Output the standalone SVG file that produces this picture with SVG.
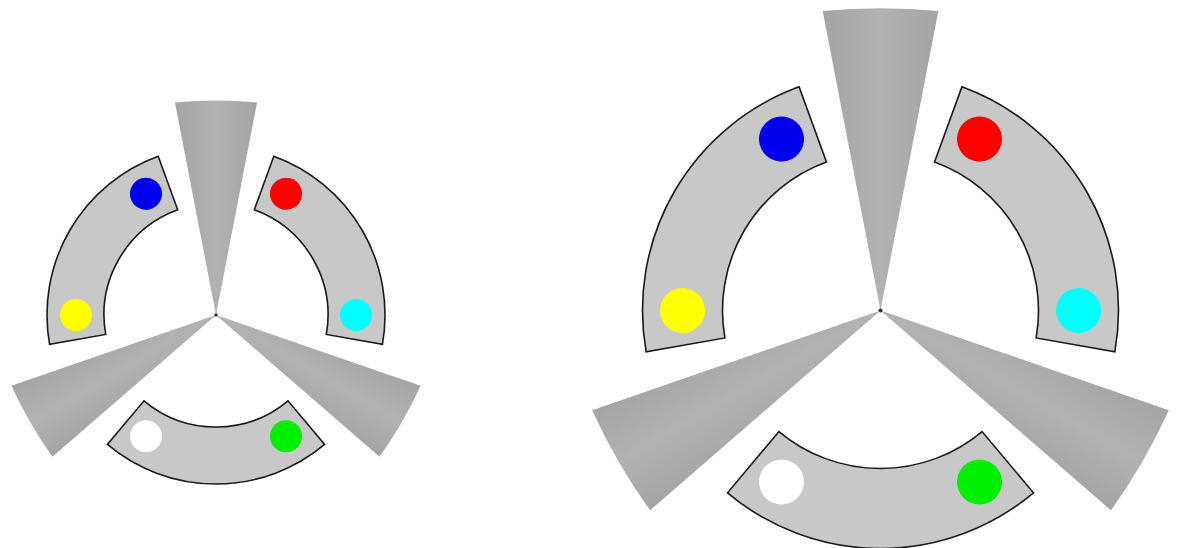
<svg xmlns="http://www.w3.org/2000/svg" width="1178" height="548" viewBox="0 0 1178 548">
  <style>
    .wedge { fill: url(#wedgeGrad); stroke: none; }
    .seg { fill: #c8c8c8; stroke: #1a1a1a; stroke-width: 1.6; stroke-linejoin: miter; }
    .hub { fill: #333333; }
  </style>
  <defs>
    <linearGradient id="wedgeGrad" x1="0" y1="0" x2="1" y2="0">
      <stop offset="0" stop-color="#a4a4a4"/>
      <stop offset="0.5" stop-color="#b2b2b2"/>
      <stop offset="1" stop-color="#a4a4a4"/>
    </linearGradient>
  </defs>
  <rect width="1178" height="548" fill="#ffffff"/>

  <!-- Left (small) figure -->
  <g id="figure-small" transform="translate(216,315)">
    <g id="small-wedges">
      <path id="small-wedge-top" class="wedge" d="M0,0 L-41.02,-212.5 A420 420 0 0 1 41.02,-212.5 Z"/>
      <path id="small-wedge-right" class="wedge" transform="rotate(120)" d="M0,0 L-41.02,-212.5 A420 420 0 0 1 41.02,-212.5 Z"/>
      <path id="small-wedge-left" class="wedge" transform="rotate(240)" d="M0,0 L-41.02,-212.5 A420 420 0 0 1 41.02,-212.5 Z"/>
      <circle class="hub" cx="0" cy="0" r="1.8"/>
    </g>
    <g id="small-seg-bottom">
      <path class="seg" d="M108.63,129.46 A169 169 0 0 1 -108.63,129.46 L-72,85.8 A112 112 0 0 0 72,85.8 Z"/>
      <circle cx="70" cy="121.24" r="16" fill="#00ee00"/>
      <circle cx="-70" cy="121.24" r="16" fill="#ffffff"/>
    </g>
    <g id="small-seg-topleft" transform="rotate(120)">
      <path class="seg" d="M108.63,129.46 A169 169 0 0 1 -108.63,129.46 L-72,85.8 A112 112 0 0 0 72,85.8 Z"/>
      <circle cx="70" cy="121.24" r="16" fill="#ffff00"/>
      <circle cx="-70" cy="121.24" r="16" fill="#0000ee"/>
    </g>
    <g id="small-seg-topright" transform="rotate(240)">
      <path class="seg" d="M108.63,129.46 A169 169 0 0 1 -108.63,129.46 L-72,85.8 A112 112 0 0 0 72,85.8 Z"/>
      <circle cx="70" cy="121.24" r="16" fill="#ff0000"/>
      <circle cx="-70" cy="121.24" r="16" fill="#00ffff"/>
    </g>
  </g>

  <!-- Right (large) figure -->
  <g id="figure-large" transform="translate(880.5,310.5)">
    <g id="large-wedges">
      <path id="large-wedge-top" class="wedge" d="M0,0 L-57.82,-299.5 A590 590 0 0 1 57.82,-299.5 Z"/>
      <path id="large-wedge-right" class="wedge" transform="rotate(120)" d="M0,0 L-57.82,-299.5 A590 590 0 0 1 57.82,-299.5 Z"/>
      <path id="large-wedge-left" class="wedge" transform="rotate(240)" d="M0,0 L-57.82,-299.5 A590 590 0 0 1 57.82,-299.5 Z"/>
      <circle class="hub" cx="0" cy="0" r="2"/>
    </g>
    <g id="large-seg-bottom">
      <path class="seg" d="M152.98,182.32 A238 238 0 0 1 -152.98,182.32 L-101.56,121.04 A158 158 0 0 0 101.56,121.04 Z"/>
      <circle cx="99" cy="171.47" r="22.5" fill="#00ee00"/>
      <circle cx="-99" cy="171.47" r="22.5" fill="#ffffff"/>
    </g>
    <g id="large-seg-topleft" transform="rotate(120)">
      <path class="seg" d="M152.98,182.32 A238 238 0 0 1 -152.98,182.32 L-101.56,121.04 A158 158 0 0 0 101.56,121.04 Z"/>
      <circle cx="99" cy="171.47" r="22.5" fill="#ffff00"/>
      <circle cx="-99" cy="171.47" r="22.5" fill="#0000ee"/>
    </g>
    <g id="large-seg-topright" transform="rotate(240)">
      <path class="seg" d="M152.98,182.32 A238 238 0 0 1 -152.98,182.32 L-101.56,121.04 A158 158 0 0 0 101.56,121.04 Z"/>
      <circle cx="99" cy="171.47" r="22.5" fill="#ff0000"/>
      <circle cx="-99" cy="171.47" r="22.5" fill="#00ffff"/>
    </g>
  </g>

  <g id="connectors"></g>
</svg>
